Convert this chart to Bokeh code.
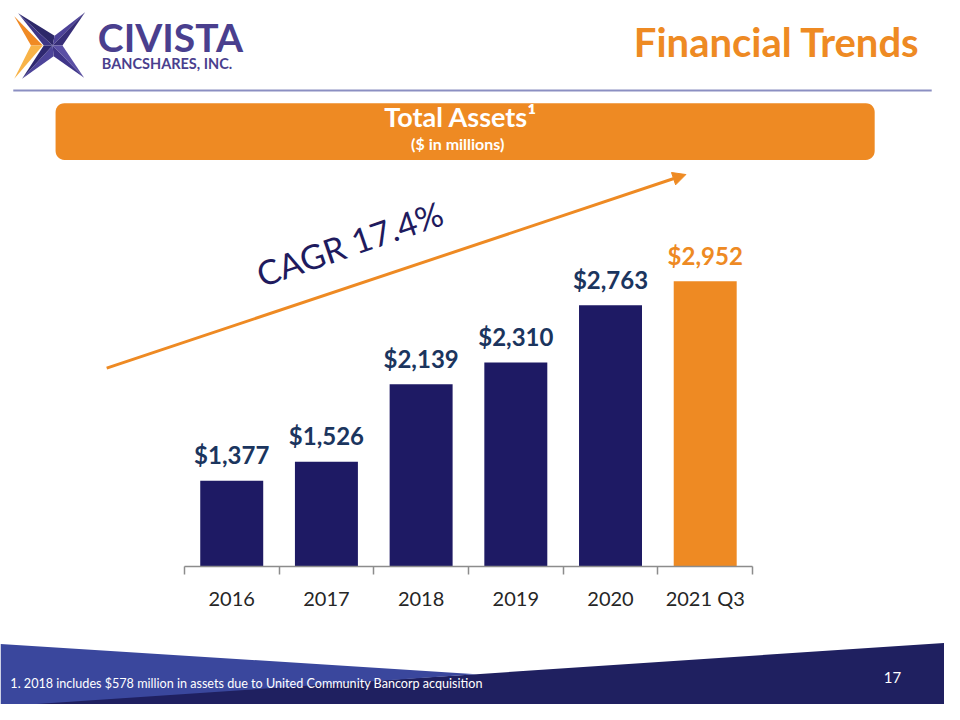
from bokeh.plotting import figure
from bokeh.models import Range1d, LinearAxis, FixedTicker, Label, Arrow, NormalHead, ColumnDataSource
from bokeh.core.properties import value
from bokeh.embed import file_html
from bokeh.resources import INLINE
import numpy as np

# ---------------- data ----------------
categories = ["2016", "2017", "2018", "2019", "2020", "2021 Q3"]
total_assets = [1377, 1526, 2139, 2310, 2763, 2952]
cagr_text = "CAGR 17.4%"
page_title = "Financial Trends"
panel_title = "Total Assets\u00b9"
panel_subtitle = "($ in millions)"
footnote = "1. 2018 includes $578 million in assets due to United Community Bancorp acquisition"
page_number = "17"

# ---------------- style ----------------
W, H = 944, 704
NAVY = "#1e1a64"
ORANGE = "#ee8a23"
LABEL_BLUE = "#1b355e"
PURPLE = "#4a3f8e"
FONT = "Lato"

# layout of the chart area inside the page (page px units 960x720)
u = 96.3          # px per category
x0 = 187.0        # left end of category axis
y_zero_px = 669.4
px_per_val = 0.1295
y_base = 700      # value at the category axis

n = len(categories)
xr = Range1d(-0.5 - x0 / u, -0.5 + (960 - x0) / u)
yr = Range1d((y_zero_px - 720) / px_per_val, y_zero_px / px_per_val)

p = figure(width=W, height=H, output_backend="svg", toolbar_location=None,
           x_range=xr, y_range=yr, x_axis_type=None, y_axis_type=None,
           min_border=0, outline_line_color=None, background_fill_color="white")
p.extra_x_ranges = {"px": Range1d(0, 960)}
p.extra_y_ranges = {"px": Range1d(720, 0)}

PX = dict(x_range_name="px", y_range_name="px")

# ---------------- header ----------------
# logo star
C = (53, 46)
N_, E_, S_, W_ = (55, 36), (63, 46), (54, 57), (44, 46)
TL, TR, BR, BL = (18, 13), (86, 12), (85, 79), (22, 80)
tri = [
    ([(14, 16), (43, 46), (31, 46)], "#f08a24"),
    ([(14, 80), (43, 46), (31, 46)], "#f8b347"),
    ([TL, N_, C], "#2d2869"), ([TL, W_, C], "#3d3585"),
    ([TR, N_, C], "#4d4298"), ([TR, E_, C], "#372e78"),
    ([BR, E_, C], "#5a4fa5"), ([BR, S_, C], "#3f3589"),
    ([BL, S_, C], "#4d449a"), ([BL, W_, C], "#2e2870"),
]
p.patches(xs=[[a[0] for a in t] for t, _ in tri], ys=[[a[1] for a in t] for t, _ in tri],
          fill_color=[c for _, c in tri], line_color=None, **PX)

p.add_layout(Label(x=99, y=37, text="CIVISTA", text_font=FONT, text_font_style="bold",
                   text_font_size="39px", text_color=PURPLE, text_baseline="middle", **PX))
p.add_layout(Label(x=103, y=64, text="BANCSHARES, INC.", text_font=FONT, text_font_style="bold",
                   text_font_size="14.5px", text_color=PURPLE, text_baseline="middle", **PX))
p.add_layout(Label(x=935, y=42, text=page_title, text_font=FONT, text_font_style="bold",
                   text_font_size="40px", text_color=ORANGE, text_align="right",
                   text_baseline="middle", **PX))
p.line([13, 947], [92, 92], line_color="#8b8fc2", line_width=2, **PX)

# banner (rounded rectangle)
def rounded(x_a, y_a, x_b, y_b, r):
    xs, ys = [], []
    corners = [(x_b - r, y_a + r, -90, 0), (x_b - r, y_b - r, 0, 90),
               (x_a + r, y_b - r, 90, 180), (x_a + r, y_a + r, 180, 270)]
    for cx, cy, a0, a1 in corners:
        t = np.radians(np.linspace(a0, a1, 8))
        xs += list(cx + r * np.cos(t))
        ys += list(cy + r * np.sin(t))
    return xs, ys

bx, by = rounded(56, 105, 889, 163, 9)
p.patch(bx, by, fill_color=ORANGE, line_color=None, **PX)
p.add_layout(Label(x=468, y=119, text=panel_title, text_font=FONT, text_font_style="bold",
                   text_font_size="27px", text_color="white", text_align="center",
                   text_baseline="middle", **PX))
p.add_layout(Label(x=465, y=146, text=panel_subtitle, text_font=FONT, text_font_style="bold",
                   text_font_size="16px", text_color="white", text_align="center",
                   text_baseline="middle", **PX))

# ---------------- bars ----------------
xs = list(range(n))
bar_colors = [NAVY] * (n - 1) + [ORANGE]
lab_colors = [LABEL_BLUE] * (n - 1) + [ORANGE]
src = ColumnDataSource(dict(x=xs, top=total_assets, color=bar_colors, lcolor=lab_colors,
                            label=[f"${v:,}" for v in total_assets]))
p.vbar(x="x", top="top", bottom=y_base, width=0.665, fill_color="color", line_color=None, source=src)
p.text(x="x", y="top", text="label", text_color="lcolor", text_font=value(FONT),
       text_font_style="bold", text_font_size="24px", text_align="center",
       text_baseline="middle", y_offset=-26, source=src)

ax = LinearAxis(ticker=FixedTicker(ticks=xs, minor_ticks=[i - 0.5 for i in range(n + 1)]),
                fixed_location=y_base, bounds=(-0.5, n - 0.5),
                major_label_overrides={i: c for i, c in zip(xs, categories)},
                axis_line_color="#8c8c8c", axis_line_width=1.5,
                major_tick_in=0, major_tick_out=0,
                minor_tick_in=0, minor_tick_out=8, minor_tick_line_color="#8c8c8c",
                minor_tick_line_width=1.5,
                major_label_text_font=FONT, major_label_text_font_size="20px",
                major_label_text_color="#262626", major_label_standoff=12)
p.add_layout(ax, "below")

# ---------------- CAGR arrow ----------------
p.add_layout(Arrow(end=NormalHead(size=13, fill_color=ORANGE, line_color=ORANGE),
                   x_start=108, y_start=376, x_end=697, y_end=178,
                   line_color=ORANGE, line_width=3, **PX))
p.add_layout(Label(x=355, y=248, text=cagr_text, text_font=FONT, text_font_size="34px",
                   text_color="#1f1b5e", angle=19, angle_units="deg", text_align="center",
                   text_baseline="middle", **PX))

# ---------------- footer ----------------
p.patch([0, 484, 960, 960, 0], [720, 689, 657, 720, 720], fill_color="#1f2060", line_color=None, **PX)
p.patch([0, 484, 0], [658, 689, 722], fill_color="#3a479d", line_color=None, **PX)
p.add_layout(Label(x=10, y=699, text=footnote, text_font=FONT, text_font_size="12.6px",
                   text_color="white", text_baseline="middle", **PX))
p.add_layout(Label(x=907, y=692, text=page_number, text_font=FONT, text_font_size="15px",
                   text_color="white", text_align="center", text_baseline="middle", **PX))

open("out.html", "w").write(file_html(p, INLINE))
